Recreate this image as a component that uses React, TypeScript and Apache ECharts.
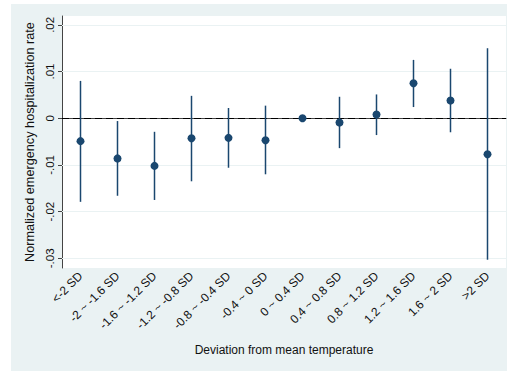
import React, { useEffect, useRef } from "react";
import * as echarts from "echarts";

const categories = [
  "<-2 SD", "-2 ~ -1.6 SD", "-1.6 ~ -1.2 SD", "-1.2 ~ -0.8 SD", "-0.8 ~ -0.4 SD", "-0.4 ~ 0 SD",
  "0 ~ 0.4 SD", "0.4 ~ 0.8 SD", "0.8 ~ 1.2 SD", "1.2 ~ 1.6 SD", "1.6 ~ 2 SD", ">2 SD",
];
const estimates = [-0.0049, -0.0086, -0.0102, -0.0043, -0.0042, -0.0047, 0, -0.0009, 0.0008, 0.0075, 0.0038, -0.0077];
const upper = [0.0080, -0.0006, -0.0029, 0.0048, 0.0022, 0.0027, 0, 0.0046, 0.0051, 0.0125, 0.0106, 0.0150];
const lower = [-0.0179, -0.0166, -0.0175, -0.0135, -0.0106, -0.0120, 0, -0.0064, -0.0036, 0.0024, -0.0030, -0.0303];
const yTicks = [-0.03, -0.02, -0.01, 0, 0.01, 0.02];
const gridValues = [-0.03, -0.02, -0.01, 0.01, 0.02];

const NAVY = "#1A476F";
const BG = "#EAF2F3";
const FONT = "Liberation Sans, Arial, sans-serif";

function fmt(v: number): string {
  if (Math.abs(v) < 1e-12) return "0";
  const s = v.toFixed(2);
  return s.replace("0.", ".");
}

export default function App() {
  const ref = useRef<HTMLDivElement>(null);
  useEffect(() => {
    if (!ref.current) return;
    const chart = echarts.init(ref.current, null, { renderer: "svg" });
    chart.setOption({
      animation: false,
      backgroundColor: "#ffffff",
      graphic: [
        { type: "rect", z: -10, silent: true, shape: { x: 11, y: 4, width: 496, height: 367 }, style: { fill: BG } },
        { type: "rect", z: -9, silent: true, shape: { x: 62, y: 16, width: 444, height: 252 }, style: { fill: "#ffffff" } },
      ],
      grid: { left: 62, top: 16, width: 444, height: 252, containLabel: false },
      xAxis: {
        type: "category",
        data: categories,
        boundaryGap: true,
        name: "Deviation from mean temperature",
        nameLocation: "middle",
        nameGap: 76,
        nameTextStyle: { fontFamily: FONT, fontSize: 12, color: "#111" },
        axisLine: { lineStyle: { color: "#444", width: 1 } },
        axisTick: { alignWithLabel: true, length: 4, lineStyle: { color: "#444" } },
        axisLabel: { rotate: 45, interval: 0, margin: 6, fontFamily: FONT, fontSize: 12, color: "#111" },
        splitLine: { show: false },
      },
      yAxis: {
        type: "value",
        min: -0.03207,
        max: 0.0219,
        name: "Normalized emergency hospitalization rate",
        nameLocation: "middle",
        nameGap: 26,
        nameRotate: 90,
        nameTextStyle: { fontFamily: FONT, fontSize: 12.7, color: "#111" },
        axisLine: { show: true, lineStyle: { color: "#444", width: 1 } },
        axisTick: { show: true, length: 4, lineStyle: { color: "#444" }, customValues: yTicks },
        axisLabel: {
          rotate: 90,
          margin: 6,
          fontFamily: FONT,
          fontSize: 11.5,
          color: "#111",
          customValues: yTicks,
          formatter: (v: number) => fmt(v),
        },
        splitLine: { show: false },
      },
      series: [
        {
          type: "scatter",
          data: [],
          z: 1,
          silent: true,
          markLine: {
            z: 1,
            silent: true,
            symbol: "none",
            label: { show: false },
            lineStyle: { color: BG, width: 1, type: "solid" },
            data: gridValues.map((v) => ({ yAxis: v })),
          },
        },
        {
          type: "scatter",
          data: [],
          z: 2,
          silent: true,
          markLine: {
            z: 2,
            silent: true,
            symbol: "none",
            label: { show: false },
            lineStyle: { color: "#000", width: 1.2, type: [7, 4] },
            data: [{ yAxis: 0 }],
          },
        },
        {
          type: "custom",
          z: 3,
          data: categories.map((_, i) => [i, lower[i], upper[i]]),
          renderItem: (params: any, api: any) => {
            const i = api.value(0);
            const lo = api.coord([i, api.value(1)]);
            const hi = api.coord([i, api.value(2)]);
            return {
              type: "line",
              shape: { x1: lo[0], y1: lo[1], x2: hi[0], y2: hi[1] },
              style: { stroke: NAVY, lineWidth: 1.5 },
            };
          },
        },
        {
          type: "scatter",
          z: 4,
          data: categories.map((_, i) => [i, estimates[i]]),
          symbol: "circle",
          symbolSize: 8,
          itemStyle: { color: NAVY, opacity: 1 },
        },
      ],
    });
    return () => chart.dispose();
  }, []);
  return (
    <div
      ref={ref}
      style={{ position: "fixed", left: 0, top: 0, width: 507, height: 371 }}
    />
  );
}
